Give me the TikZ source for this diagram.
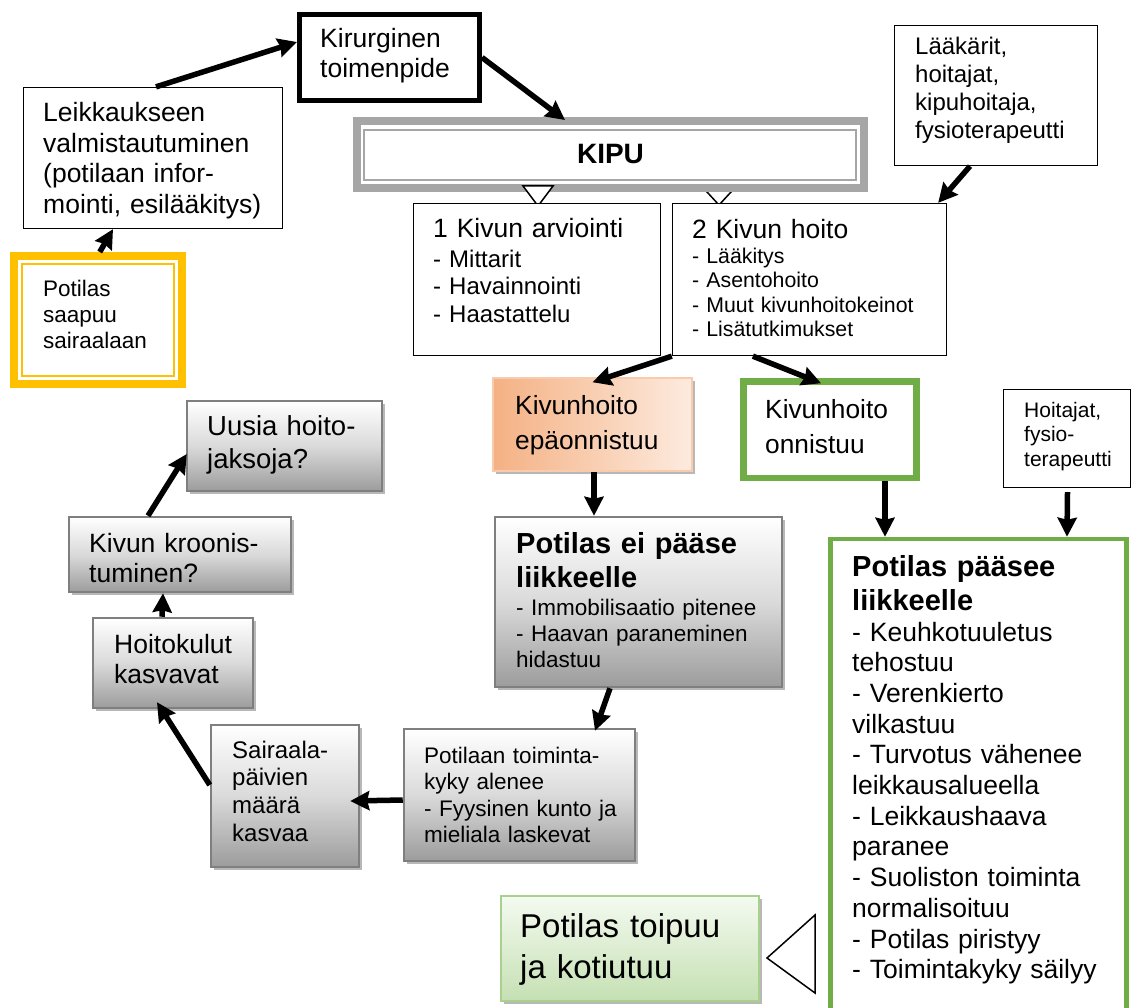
\documentclass[tikz,border=0pt]{standalone}
\usepackage{fontspec}
\setmainfont{Liberation Sans}
\usetikzlibrary{arrows.meta,shadows,calc}

\definecolor{yel}{HTML}{FFC000}
\definecolor{kgray}{HTML}{A6A6A6}
\definecolor{grn}{HTML}{70AD47}
\definecolor{bgray}{HTML}{7F7F7F}
\definecolor{shgray}{HTML}{9C9C9C}
\definecolor{midgray}{HTML}{DADADA}
\definecolor{orA}{HTML}{F4B183}
\definecolor{orB}{HTML}{FDEBDF}
\definecolor{orBd}{HTML}{F8CBAD}
\definecolor{gnA}{HTML}{F4FAF0}
\definecolor{gnB}{HTML}{C5E0B3}
\definecolor{gnBd}{HTML}{A9D18E}

\newcommand{\fs}[2]{\fontsize{#1}{#2}\selectfont}
\newcommand{\mybox}[6]{\node[#1, minimum width={#5-#3}, minimum height={#6-#4}] (#2) at ({(#3+#5)/2},{(#4+#6)/2}) {};}

\begin{document}
\begin{tikzpicture}[x=1pt,y=-1pt,
  box/.style={draw=black, line width=1.3pt, fill=white, inner sep=0pt},
  shad/.style={drop shadow={shadow xshift=3pt, shadow yshift=-3pt, fill=black!28, opacity=1}},
  grbox/.style={draw=bgray, line width=2.5pt, inner sep=0pt, shad, top color=white, bottom color=shgray, middle color=midgray},
  txt/.style={anchor=base west, inner sep=0pt, text width=320pt, align=left},
  arr/.style={line width=5.5pt, -{Stealth[length=19pt,width=19pt,inset=2pt]}},
  tri/.style={draw=black, line width=1.5pt, fill=white, line join=miter},
]
\useasboundingbox (0,0) rectangle (1131,1008);
\fill[white] (0,0) rectangle (1131,1008);

% second (partly hidden) triangle under KIPU
\draw[tri] (701.5,186) -- (736.5,186) -- (719,205) -- cycle;

% KIPU
\node[draw=kgray, line width=8pt, fill=white, inner sep=0pt, minimum width=507, minimum height=67,
  font=\fs{28}{32}\bfseries] (kipu) at (610.5,154.5) {KIPU};
\draw[kgray, line width=2pt] ([shift={(11pt,-13pt)}]kipu.north west) rectangle ([shift={(-12pt,12pt)}]kipu.south east);
\draw[tri] (523,186) -- (553,186) -- (538,206) -- cycle;

% boxes
\mybox{box, line width=5pt}{kir}{299.5}{14.5}{479.5}{100.5}
\mybox{box}{leik}{23.5}{87.5}{282.5}{228.5}
\mybox{draw=yel, line width=8pt, fill=white, inner sep=0pt}{pot}{14}{256}{181.5}{384}
\draw[yel, line width=2pt] ([shift={(11.5pt,-12pt)}]pot.north west) rectangle ([shift={(-12pt,12pt)}]pot.south east);
\mybox{box}{arv}{413.5}{203.5}{660.5}{355.5}
\mybox{box}{hoito}{672.5}{203.5}{946.5}{355.5}
\mybox{box}{laak}{894.5}{25.5}{1097.5}{165.5}
\mybox{draw=orBd, line width=1.5pt, inner sep=0pt, shad, left color=orA, right color=orB}{epa}{493}{378}{692}{471}
\mybox{draw=grn, line width=6.5pt, fill=white, inner sep=0pt}{onn}{743.5}{381.5}{916.5}{478}
\mybox{grbox}{ei}{495}{517}{782}{687}
\mybox{grbox}{toim}{404}{729}{635}{861}
\mybox{grbox}{sair}{211}{725}{359}{867}
\mybox{grbox}{hoitok}{93}{618}{253}{708}
\mybox{grbox}{kroon}{69}{517}{291}{592}
\mybox{grbox}{uusi}{187}{401}{382}{491}
\mybox{box}{hoitaj}{1003.5}{389.5}{1130.5}{487.5}
\mybox{draw=grn, line width=4.5pt, fill=white, inner sep=0pt}{paasee}{830.5}{539}{1126.5}{1030}
\mybox{draw=gnBd, line width=2.5pt, inner sep=0pt, shad, top color=gnA, bottom color=gnB}{toip}{501}{896}{759}{1001}
\draw[tri] (767,958) -- (815,915) -- (815,993) -- cycle;

% texts
\node[txt, font=\fs{26.5}{30}] (kir-t) at (320,48) {Kirurginen\\toimenpide};
\node[txt, font=\fs{26.5}{30.5}] (leik-t) at (43,122) {Leikkaukseen\\valmistautuminen\\(potilaan infor-\\mointi, esilääkitys)};
\node[txt, font=\fs{22.5}{26}] (pot-t) at (43,296) {Potilas\\saapuu\\sairaalaan};
\node[txt, font=\fs{26.5}{30}] (arv-t) at (433,237) {1 Kivun arviointi};
\node[txt, font=\fs{24}{27.6}] (arv-i) at (433,267) {- Mittarit\\- Havainnointi\\- Haastattelu};
\node[txt, font=\fs{26.5}{30}] (hoito-t) at (692,238) {2 Kivun hoito};
\node[txt, font=\fs{21.3}{24.6}] (hoito-i) at (692,263) {- Lääkitys\\- Asentohoito\\- Muut kivunhoitokeinot\\- Lisätutkimukset};
\node[txt, font=\fs{24}{27.7}] (laak-t) at (915,55) {Lääkärit,\\hoitajat,\\kipuhoitaja,\\fysioterapeutti};
\node[txt, font=\fs{26.3}{35}] (epa-t) at (515,414) {Kivunhoito\\epäonnistuu};
\node[txt, font=\fs{26.3}{35}] (onn-t) at (765,418) {Kivunhoito\\onnistuu};
\node[txt, font=\fs{29}{34}\bfseries] (ei-t) at (516,553) {Potilas ei pääse\\liikkeelle};
\node[txt, font=\fs{22.5}{26}] (ei-i) at (516,615) {- Immobilisaatio pitenee\\- Haavan paraneminen\\hidastuu};
\node[txt, font=\fs{22.5}{26.5}] (toim-t) at (424,763) {Potilaan toiminta-\\kyky alenee\\- Fyysinen kunto ja\\mieliala laskevat};
\node[txt, font=\fs{24}{27.7}] (sair-t) at (232,758) {Sairaala-\\päivien\\määrä\\kasvaa};
\node[txt, font=\fs{26.5}{30}] (hoitok-t) at (114,653) {Hoitokulut\\kasvavat};
\node[txt, font=\fs{26.5}{30}] (kroon-t) at (89,552) {Kivun kroonis-\\tuminen?};
\node[txt, font=\fs{27.5}{33}] (uusi-t) at (207,435) {Uusia hoito-\\jaksoja?};
\node[txt, font=\fs{21}{24.5}] (hoitaj-t) at (1024,417) {Hoitajat,\\fysio-\\terapeutti};
\node[txt, font=\fs{29}{34}\bfseries] (paasee-t) at (852,576) {Potilas pääsee\\liikkeelle};
\node[txt, font=\fs{26.5}{30.7}] (paasee-i) at (852,641) {- Keuhkotuuletus\\tehostuu\\- Verenkierto\\vilkastuu\\- Turvotus vähenee\\leikkausalueella\\- Leikkaushaava\\paranee\\- Suoliston toiminta\\normalisoituu\\- Potilas piristyy\\- Toimintakyky säilyy};
\node[txt, font=\fs{33}{41}] (toip-t) at (520,937) {Potilas toipuu\\ja kotiutuu};

% connectors
\draw[arr] ([xshift=3pt]leik.north) -- ([yshift=15.5pt]kir.west);
\draw[arr] (kir.east) -- ([xshift=-45.5pt,yshift=-3pt]kipu.north);
\draw[arr] ([xshift=2pt]pot.north) -- ([xshift=-40pt]leik.south);
\draw[arr] ([xshift=-26pt]laak.south) -- ([xshift=-9pt]hoito.north east);
\draw[arr] (hoito.south west) -- ([yshift=-5pt]epa.north);
\draw[arr] ([xshift=81pt]hoito.south west) -- ([xshift=-9pt,yshift=-5pt]onn.north);
\draw[arr] ([xshift=1.5pt]epa.south) -- ([xshift=-44.5pt]ei.north);
\draw[arr] ([xshift=-28.5pt]ei.south) -- ([xshift=75.5pt,yshift=-3pt]toim.north);
\draw[arr] ([yshift=-5pt]toim.west) -- ([xshift=-10pt,yshift=-5pt]sair.east);
\draw[arr] ([yshift=11pt]sair.west) -- ([xshift=-16pt,yshift=7pt]hoitok.south);
\draw[arr] ([xshift=-11pt]hoitok.north) -- ([xshift=-17pt]kroon.south);
\draw[arr] ([xshift=-32pt]kroon.north) -- ([xshift=1pt,yshift=-8pt]uusi.west);
\draw[arr] ([xshift=55pt]onn.south) -- ([xshift=-93.5pt]paasee.north);
\draw[arr] ([xshift=0.5pt,yshift=-4pt]hoitaj.south) -- ([xshift=88.5pt]paasee.north);
\end{tikzpicture}
\end{document}
